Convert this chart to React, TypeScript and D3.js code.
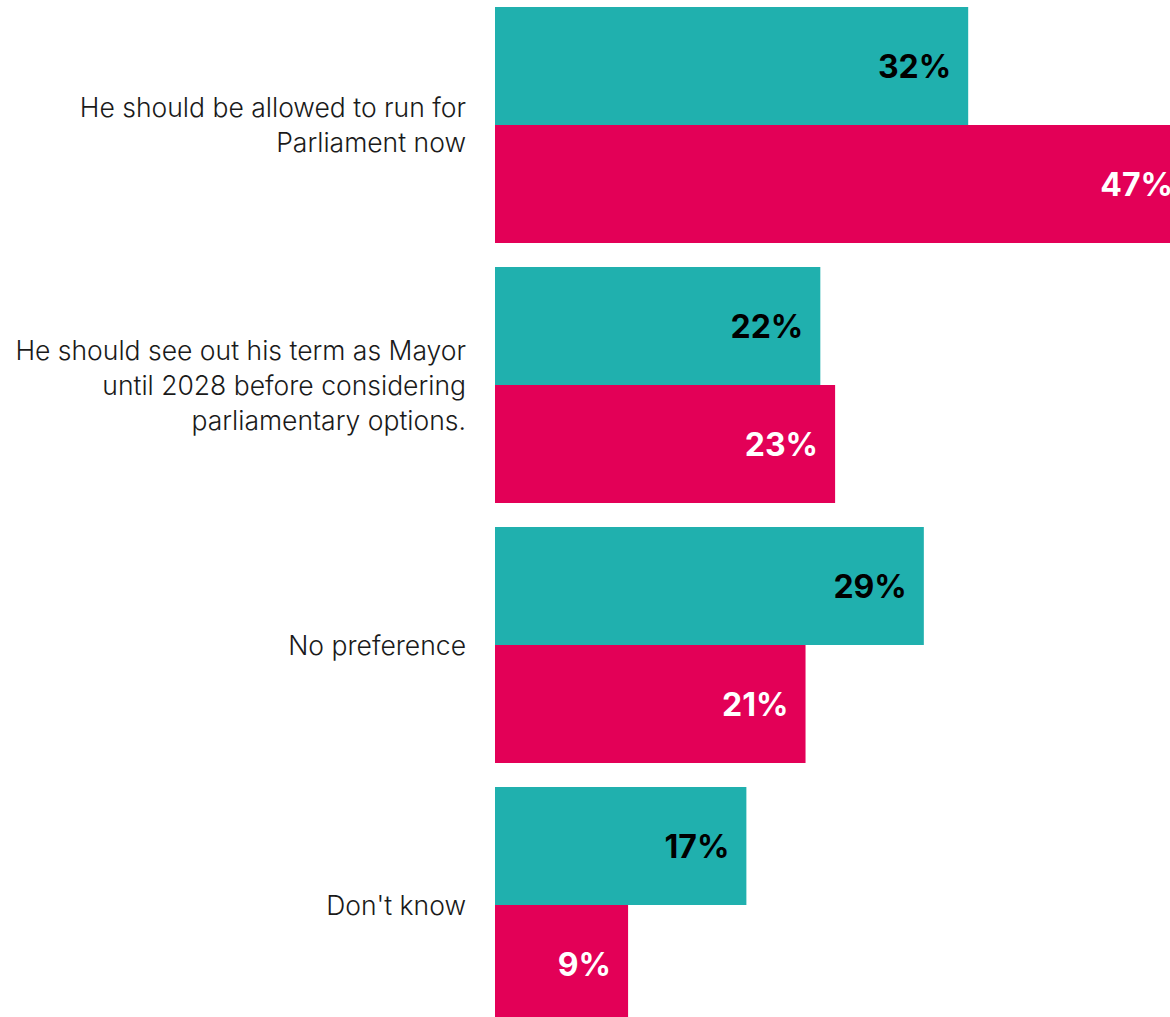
import React from "react";
import * as d3 from "d3";

const categories: string[][] = [
  ["He should be allowed to run for", "Parliament now"],
  ["He should see out his term as Mayor", "until 2028 before considering", "parliamentary options."],
  ["No preference"],
  ["Don't know"],
];
const seriesA: number[] = [32, 22, 29, 17];
const seriesB: number[] = [47, 23, 21, 9];
const seriesNames = ["A", "B"];
const colors = ["#20B0AE", "#E30057"];
const labelColors = ["#000000", "#FFFFFF"];

const W = 1170;
const H = 1017;

export default function App() {
  const x = d3.scaleLinear().domain([0, 47]).range([495, 1190]);
  const y = d3
    .scaleBand<number>()
    .domain(d3.range(categories.length))
    .range([7, 7 + 260 * categories.length - 24])
    .paddingInner(24 / 260)
    .paddingOuter(0)
    .align(0);
  const inner = d3.scaleBand<string>().domain(seriesNames).range([0, y.bandwidth()]);
  const series = [seriesA, seriesB];
  const lineH = 35;

  return (
    <svg
      width={W}
      height={H}
      style={{ position: "absolute", left: 0, top: 0, overflow: "hidden", background: "#fff" }}
    >
      {categories.map((lines, i) => {
        const y0 = y(i)!;
        const cy = y0 + y.bandwidth() / 2;
        return (
          <g key={i}>
            {series.map((s, j) => {
              const by = y0 + inner(seriesNames[j])!;
              const bh = inner.bandwidth();
              return (
                <g key={j}>
                  <rect x={x(0)} y={by} width={x(s[i]) - x(0)} height={bh} fill={colors[j]} />
                  <text
                    x={x(s[i]) - 17}
                    y={by + bh / 2}
                    dy="0.36em"
                    textAnchor="end"
                    fontFamily="Inter, sans-serif"
                    fontWeight={700}
                    fontSize={32}
                    fill={labelColors[j]}
                  >
                    {s[i]}%
                  </text>
                </g>
              );
            })}
            <text
              textAnchor="end"
              fontFamily="Inter, sans-serif"
              fontWeight={300}
              fontSize={26.5}
              fill="#1a1a1a"
            >
              {lines.map((l, k) => (
                <tspan
                  key={k}
                  x={466}
                  y={cy + (k - (lines.length - 1) / 2) * lineH}
                  dy="0.36em"
                >
                  {l}
                </tspan>
              ))}
            </text>
          </g>
        );
      })}
    </svg>
  );
}
